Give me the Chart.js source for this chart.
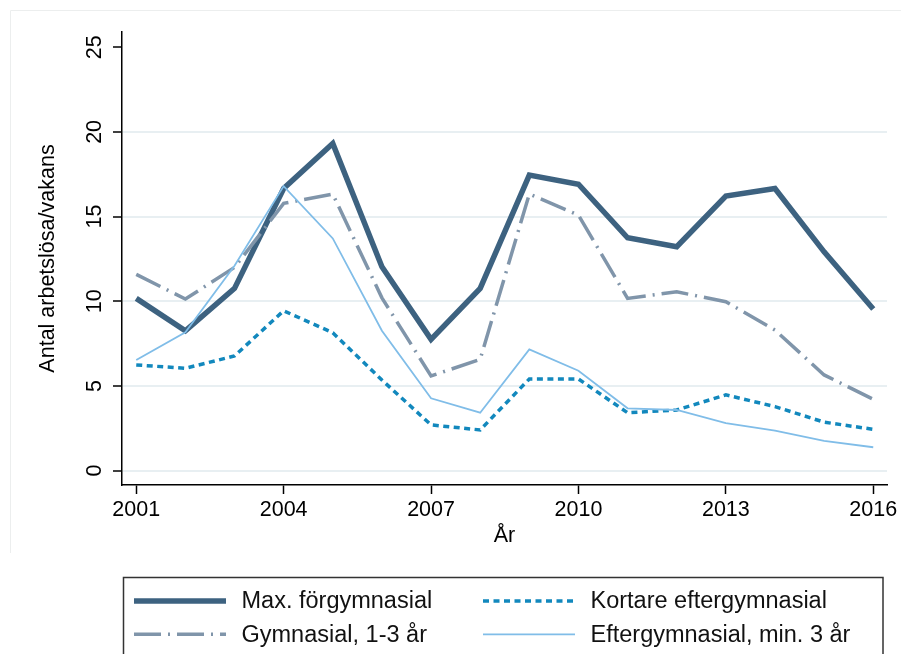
<!DOCTYPE html>
<html>
<head>
<meta charset="utf-8">
<script src="https://cdn.jsdelivr.net/npm/chart.js@4.4.1/dist/chart.umd.min.js"></script>
<style>
  html, body { margin: 0; padding: 0; background: #fff; }
  #wrap { width: 901px; height: 654px; }
</style>
</head>
<body>
<div id="wrap"><canvas id="chart" width="901" height="654"></canvas></div>
<script>
/* ── Data ─────────────────────────────────────────────────────── */
const years  = [2001, 2002, 2003, 2004, 2005, 2006, 2007, 2008, 2009, 2010, 2011, 2012, 2013, 2014, 2015, 2016];
const xTicks = [2001, 2004, 2007, 2010, 2013, 2016];
const yTicks = [0, 5, 10, 15, 20, 25];

const maxForgymnasial   = [10.17, 8.26, 10.76, 16.66, 19.32, 12.04, 7.75, 10.76, 17.45, 16.91, 13.75, 13.22, 16.21, 16.66, 12.92, 9.54];
const gymnasial13       = [11.59, 10.13, 12.0, 15.78, 16.33, 10.2, 5.59, 6.57, 16.33, 15.09, 10.17, 10.56, 9.97, 8.3, 5.65, 4.21];
const kortareEftergymn  = [6.24, 6.04, 6.77, 9.44, 8.14, 5.35, 2.7, 2.4, 5.41, 5.41, 3.42, 3.58, 4.47, 3.78, 2.86, 2.44];
const eftergymnMin3     = [6.53, 8.17, 12.1, 16.8, 13.71, 8.26, 4.27, 3.42, 7.16, 5.9, 3.68, 3.58, 2.8, 2.36, 1.75, 1.38];

const seriesNames = ['Max. förgymnasial', 'Gymnasial, 1-3 år', 'Kortare eftergymnasial', 'Eftergymnasial, min. 3 år'];

/* ── Styling ──────────────────────────────────────────────────── */
const FONT = "'Liberation Sans', Arial, Helvetica, sans-serif";
Chart.defaults.font.family = FONT;
Chart.defaults.color = '#000';

const pts = vals => years.map((x, i) => ({ x, y: vals[i] }));

/* Legend laid out like the Stata box: two columns, two rows */
const legendOrder = [0, 2, 1, 3];
const legendCols  = [134, 483];
const legendRows  = [601, 634.3];

const stataLegend = {
  id: 'stataLegend',
  beforeDraw(chart) {
    const ctx = chart.ctx;
    ctx.save();
    ctx.strokeStyle = '#eceeee';
    ctx.lineWidth = 1;
    ctx.beginPath();
    ctx.moveTo(10.5, 553); ctx.lineTo(10.5, 10.5); ctx.lineTo(901, 10.5);
    ctx.stroke();
    ctx.restore();
  },
  afterDraw(chart) {
    const ctx = chart.ctx;
    ctx.save();
    ctx.strokeStyle = '#333';
    ctx.lineWidth = 1.5;
    ctx.strokeRect(123.5, 577.5, 759.5, 100);
    ctx.font = `23.5px ${FONT}`;
    ctx.textBaseline = 'middle';
    ctx.fillStyle = '#111';
    legendOrder.forEach((di, k) => {
      const ds = chart.data.datasets[di];
      const x = legendCols[k % 2];
      const y = legendRows[Math.floor(k / 2)];
      ctx.save();
      ctx.strokeStyle = ds.borderColor;
      ctx.lineWidth = ds.borderWidth;
      ctx.setLineDash(ds.borderDash || []);
      ctx.lineCap = 'butt';
      ctx.beginPath();
      ctx.moveTo(x, y); ctx.lineTo(x + 92, y);
      ctx.stroke();
      ctx.restore();
      ctx.fillText(ds.label, x + 107.5, y + 1);
    });
    ctx.restore();
  }
};

new Chart(document.getElementById('chart'), {
  type: 'line',
  data: {
    datasets: [
      { label: seriesNames[0], data: pts(maxForgymnasial),  borderColor: '#3d6280', borderWidth: 5.5, order: 4 },
      { label: seriesNames[1], data: pts(gymnasial13),      borderColor: '#8095aa', borderWidth: 3.5, borderDash: [27, 7, 2, 7], order: 3 },
      { label: seriesNames[2], data: pts(kortareEftergymn), borderColor: '#1288bd', borderWidth: 3.5, borderDash: [6, 4.5], order: 2 },
      { label: seriesNames[3], data: pts(eftergymnMin3),    borderColor: '#80bde8', borderWidth: 1.8, order: 1 },
    ],
  },
  options: {
    responsive: false,
    animation: false,
    layout: { padding: { top: 32, right: 14, bottom: 99, left: 0 } },
    elements: {
      point: { radius: 0, hoverRadius: 0 },
      line:  { tension: 0, fill: false, borderJoinStyle: 'miter' },
    },
    plugins: {
      legend:  { display: false },
      tooltip: { enabled: false },
    },
    scales: {
      x: {
        type: 'linear',
        min: 2000.71,
        max: 2016.28,
        afterBuildTicks: s => { s.ticks = xTicks.map(v => ({ value: v })); },
        afterFit: s => { s.height = 70; },
        border: { color: '#000', width: 1.5 },
        grid: { drawOnChartArea: false, tickLength: 9, tickColor: '#000', tickWidth: 1.5 },
        ticks: { color: '#000', font: { size: 21.5 }, padding: 3, maxRotation: 0, autoSkip: false, callback: v => String(v) },
        title: { display: true, text: 'År', color: '#000', font: { size: 21.5 }, padding: { top: 0, bottom: 6 } },
      },
      y: {
        type: 'linear',
        min: -0.85,
        max: 25.9,
        afterBuildTicks: s => { s.ticks = yTicks.map(v => ({ value: v })); },
        afterFit: s => { s.width = 122; },
        border: { color: '#000', width: 1.5 },
        grid: {
          color: c => (c.tick && c.tick.value === 25) ? 'rgba(0,0,0,0)' : '#e8eff2',
          lineWidth: 2,
          tickLength: 9,
          tickColor: '#000',
          tickWidth: 1.5,
        },
        ticks: { color: '#000', font: { size: 21.5 }, padding: 6, minRotation: 90, maxRotation: 90, crossAlign: 'center', autoSkip: false },
        title: { display: true, text: 'Antal arbetslösa/vakans', color: '#000', font: { size: 21.5 }, padding: { top: 35, bottom: 0 } },
      },
    },
  },
  plugins: [stataLegend],
});
</script>
</body>
</html>
